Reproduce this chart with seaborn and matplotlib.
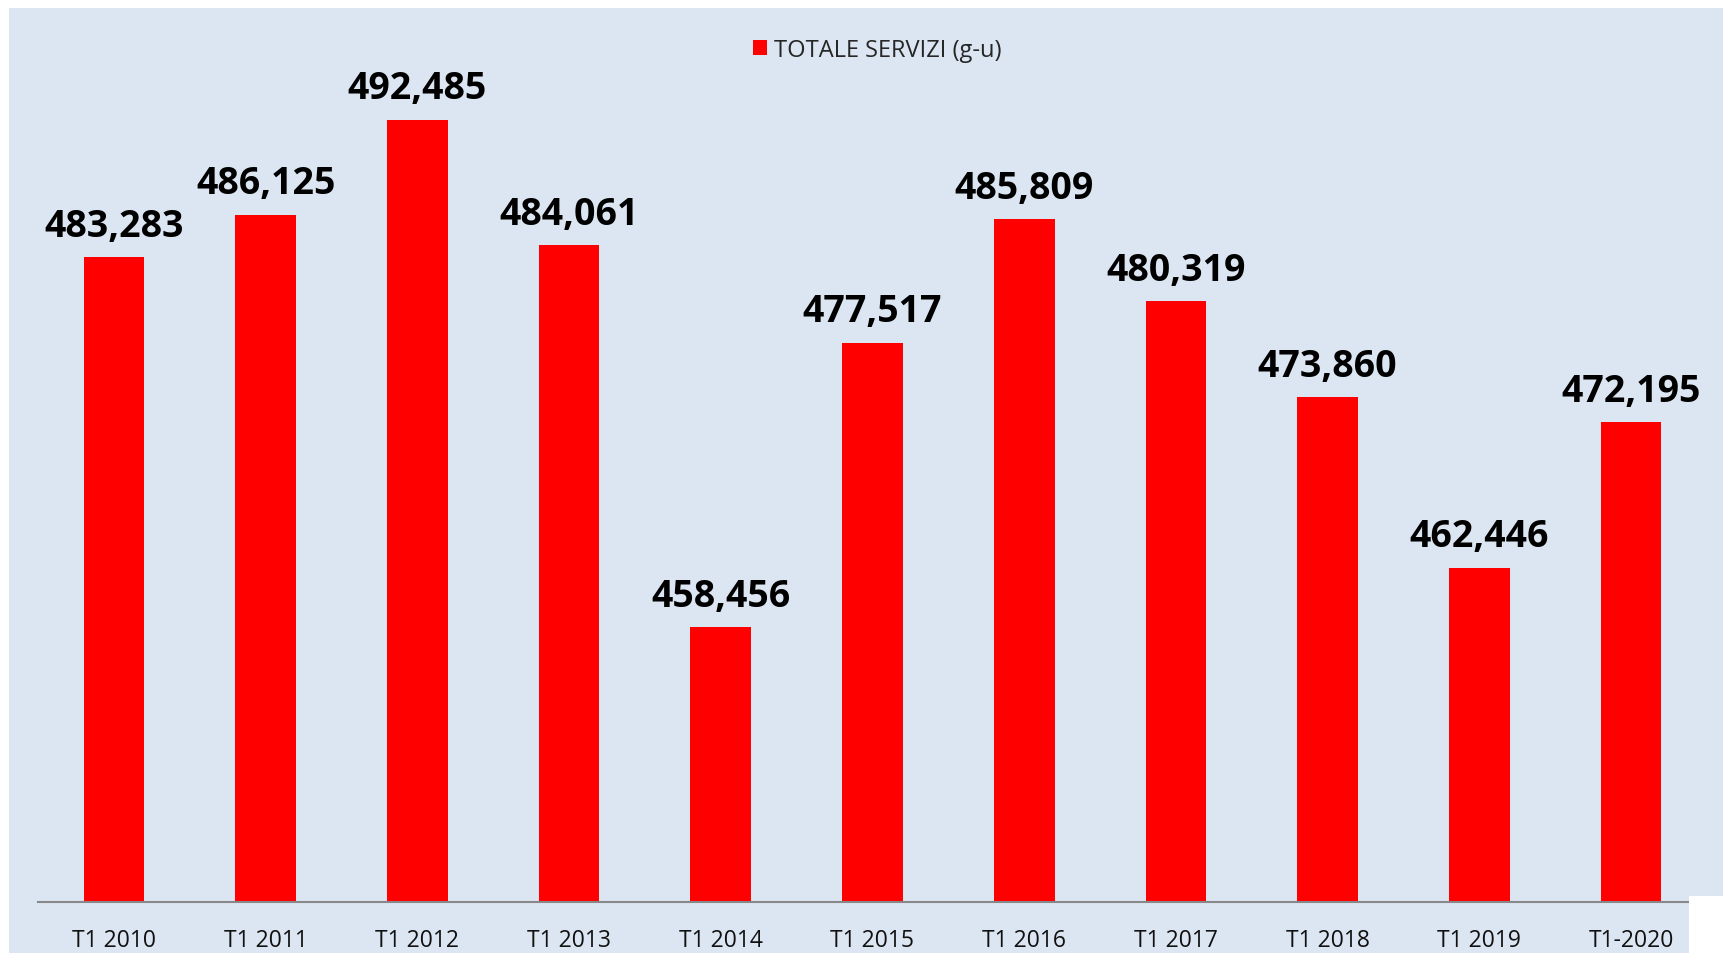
import matplotlib
matplotlib.use("Agg")
import matplotlib.pyplot as plt
import matplotlib.patches as mpatches
import seaborn as sns

# data
periodi = ["T1 2010", "T1 2011", "T1 2012", "T1 2013", "T1 2014", "T1 2015",
           "T1 2016", "T1 2017", "T1 2018", "T1 2019", "T1-2020"]
servizi = [483283, 486125, 492485, 484061, 458456, 477517,
           485809, 480319, 473860, 462446, 472195]
serie = "TOTALE SERVIZI (g-u)"

sns.set_style("white")
plt.rcParams['font.family'] = ['Open Sans', 'DejaVu Sans']

W, H = 1723, 954
bg = "#DCE6F2"
fig = plt.figure(figsize=(W / 100, H / 100), dpi=100)
fig.patch.set_facecolor("white")

# light blue chart area, with the white notch at the bottom right
fig.patches.append(mpatches.Rectangle((9 / W, 0), 1, 1 - 9 / H, transform=fig.transFigure,
                                      facecolor=bg, edgecolor="none", zorder=-10))
notch = mpatches.Rectangle((1689 / W, 0), 1, (H - 897) / H, transform=fig.transFigure,
                           facecolor="white", edgecolor="none", zorder=5)
fig.patches.append(notch)

ax = fig.add_axes([38 / W, (H - 903) / H, 1669 / W, 894 / H])
ax.set_facecolor(bg)
ax.patch.set_alpha(0)

sns.barplot(x=periodi, y=servizi, color="#FF0000", saturation=1, width=0.40, ax=ax,
            label=serie, linewidth=0)
ax.set_ylim(440000, 500000)
ax.set_xlim(-0.5, len(periodi) - 0.5)

for i, v in enumerate(servizi):
    ax.annotate(f"{v:,}", (i, v), xytext=(0, 9), textcoords="offset points",
                ha="center", va="bottom", fontsize=27, fontweight="bold", color="black")

for s in ["top", "left", "right"]:
    ax.spines[s].set_visible(False)
ax.spines["bottom"].set_color("#888888")
ax.spines["bottom"].set_linewidth(1.5)
ax.set_yticks([])
ax.tick_params(axis="x", length=0, labelsize=16.5, pad=19, colors="#111111")
ax.set_xlabel("")
ax.set_ylabel("")

leg = ax.legend(loc="upper center", bbox_to_anchor=(0.503, 0.99), frameon=False,
                fontsize=17, handlelength=0.6, handleheight=0.6, handletextpad=0.3)

fig.savefig("out.png", dpi=100, facecolor=fig.get_facecolor())
